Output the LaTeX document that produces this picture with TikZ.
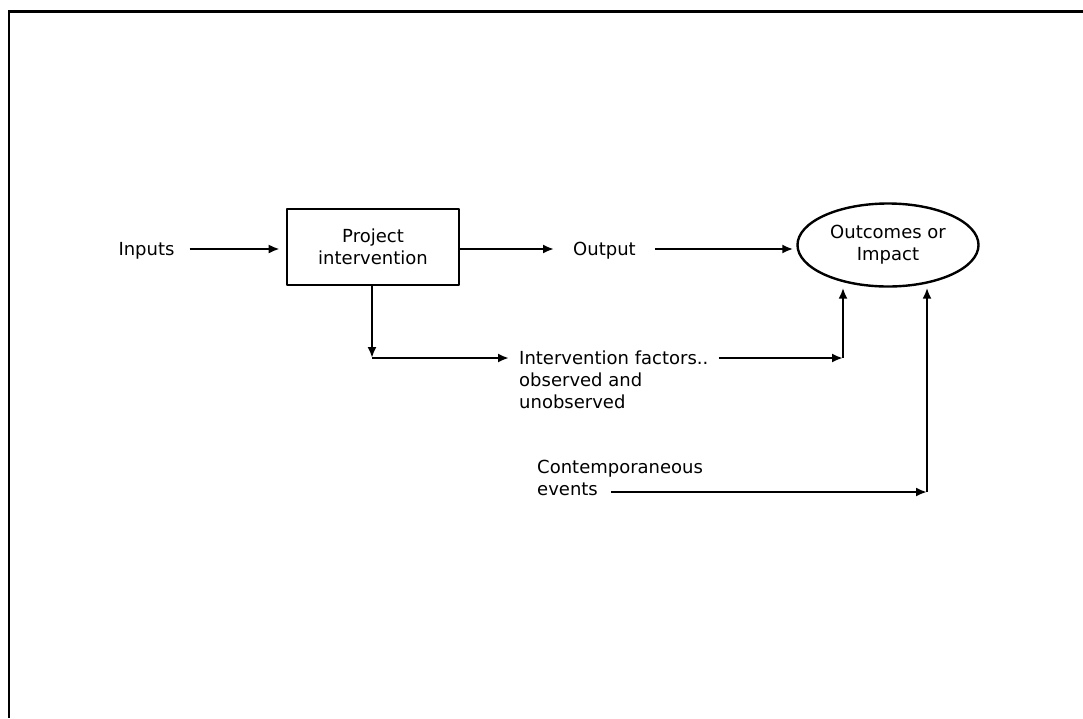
\documentclass[tikz,border=0pt]{standalone}
\usepackage{fontspec}
\setmainfont{DejaVu Sans}
\usetikzlibrary{shapes.geometric,arrows.meta}

\begin{document}
\begin{tikzpicture}[x=1pt, y=-1pt, font=\fontsize{18}{22}\selectfont, line join=round, >={Latex[length=11pt,width=9pt]}]
	\tikzset{
		conn/.style={->, line width=2.4pt},
		lbl/.style={inner ysep=0pt, align=left},
	}
	\useasboundingbox (0,0) rectangle (1083,718);
	% frame
	\draw[line width=3pt] (8,11) -- (1083,11);
	\draw[line width=2.4pt] (9,11) -- (9,718);
	% nodes
	\node[lbl, inner xsep=15pt] (inputs) at (146.5,251) {Inputs};
	\node[draw, line width=2.6pt, minimum width=172pt, minimum height=76pt, align=center] (proj) at (373,247) {Project\\intervention};
	\node[lbl, inner xsep=19pt] (output) at (604.5,251) {Output};
	\node[draw, ellipse, line width=2.4pt, minimum width=181pt, minimum height=83pt, inner sep=0pt, align=center] (impact) at (888,245) {Outcomes or\\Impact};
	\node[lbl, inner xsep=10pt, anchor=north west] (factors) at (509,351) {Intervention factors..\\observed and\\unobserved};
	\node[lbl, inner xsep=10pt, anchor=north west] (events) at (527,460) {Contemporaneous\\events};
	% bends
	\coordinate (bendA) at (372,358);
	\coordinate (bendB) at (843,358);
	\coordinate (bendC) at (927,492);
	\coordinate (evtail) at (611,492);
	% connectors
	\draw[conn, shorten >=6pt] (inputs.east |- 0,249) -- (proj.west |- 0,249);
	\draw[conn] (proj.east |- 0,249) -- (output.west |- 0,249);
	\draw[conn, shorten >=3pt] (output.east |- 0,249) -- (impact.west |- 0,249);
	\draw[conn] (proj.south -| bendA) -- (bendA);
	\draw[conn] (bendA) -- (bendA -| factors.west);
	\draw[conn] (bendB -| factors.east) -- (bendB);
	\draw[conn] (bendB) -- (bendB |- impact.south);
	\draw[conn] (evtail) -- (bendC);
	\draw[conn] (bendC) -- (bendC |- impact.south);
\end{tikzpicture}
\end{document}
